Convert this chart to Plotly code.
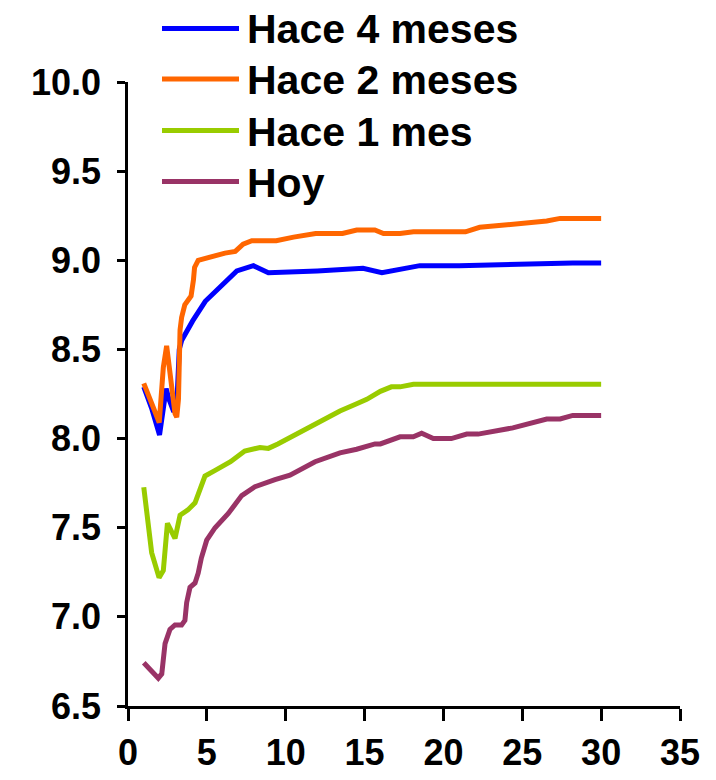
import plotly.graph_objects as go

# ---- data ----
series_names = ["Hace 4 meses", "Hace 2 meses", "Hace 1 mes", "Hoy"]
series_colors = ["#0000FF", "#FF6600", "#99CC00", "#993366"]

blue_x = [1.0, 1.5, 2.0, 2.3, 2.42, 2.6, 2.9, 3.1, 3.25, 3.4, 4.1, 4.9, 5.9, 6.9, 7.95, 8.9, 12.0, 14.9, 16.1, 18.5, 21.0, 25.0, 28.2, 30.0]
blue_y = [8.29, 8.17, 8.02, 8.22, 8.28, 8.22, 8.15, 8.20, 8.50, 8.55, 8.66, 8.77, 8.86, 8.94, 8.97, 8.93, 8.94, 8.955, 8.93, 8.97, 8.97, 8.98, 8.985, 8.985]

orange_x = [1.0, 1.5, 1.98, 2.24, 2.45, 2.66, 2.98, 3.09, 3.2, 3.3, 3.4, 3.6, 4.0, 4.15, 4.22, 4.45, 4.9, 5.5, 6.15, 6.8, 7.3, 7.85, 9.4, 10.5, 11.9, 13.6, 14.5, 15.65, 16.2, 17.25, 18.1, 21.4, 22.3, 26.55, 27.4, 30.0]
orange_y = [8.31, 8.20, 8.09, 8.40, 8.52, 8.37, 8.14, 8.12, 8.22, 8.61, 8.68, 8.75, 8.80, 8.89, 8.96, 9.00, 9.01, 9.03, 9.04, 9.05, 9.09, 9.11, 9.11, 9.13, 9.15, 9.15, 9.17, 9.17, 9.15, 9.15, 9.16, 9.16, 9.185, 9.22, 9.235, 9.235]

green_x = [1.0, 1.5, 1.97, 2.24, 2.5, 2.98, 3.3, 3.8, 4.25, 4.46, 4.88, 5.5, 6.5, 7.4, 8.37, 8.9, 9.5, 11.86, 13.44, 14.5, 15.14, 16.0, 16.7, 17.25, 18.1, 30.0]
green_y = [7.727, 7.36, 7.22, 7.26, 7.525, 7.44, 7.57, 7.60, 7.64, 7.69, 7.79, 7.82, 7.87, 7.93, 7.95, 7.945, 7.97, 8.08, 8.155, 8.195, 8.22, 8.265, 8.29, 8.29, 8.305, 8.305]

purple_x = [1.0, 1.92, 2.14, 2.35, 2.66, 2.98, 3.4, 3.61, 3.72, 3.93, 4.25, 4.45, 4.65, 4.99, 5.52, 6.36, 7.21, 8.05, 9.32, 10.27, 11.86, 13.44, 14.5, 15.66, 16.0, 17.25, 18.09, 18.62, 19.36, 20.5, 21.48, 22.2, 24.4, 26.55, 27.4, 28.2, 30.0]
purple_y = [6.743, 6.656, 6.68, 6.85, 6.93, 6.955, 6.955, 6.98, 7.08, 7.165, 7.19, 7.245, 7.33, 7.43, 7.50, 7.58, 7.68, 7.73, 7.77, 7.795, 7.87, 7.92, 7.94, 7.97, 7.97, 8.01, 8.01, 8.03, 8.00, 8.00, 8.025, 8.025, 8.06, 8.11, 8.11, 8.13, 8.13]

x_ticks = [0, 5, 10, 15, 20, 25, 30, 35]
y_ticks = [6.5, 7.0, 7.5, 8.0, 8.5, 9.0, 9.5, 10.0]

all_x = [blue_x, orange_x, green_x, purple_x]
all_y = [blue_y, orange_y, green_y, purple_y]

# ---- layout geometry (page pixels) ----
W, H = 716, 780
PL, PT, PR, PB = 128, 82, 680, 706          # plot area in page pixels
L, T, R, B = PL, PT, W - PR, H - PB
PW, PH = PR - PL, PB - PT

def px_x(px):
    return (px - PL) / PW

def px_y(py):
    return (PB - py) / PH

FONT = "Liberation Sans, Arial, sans-serif"

fig = go.Figure()
for name, color, xs, ys in zip(series_names, series_colors, all_x, all_y):
    fig.add_trace(go.Scatter(x=xs, y=ys, mode="lines", name=name,
                             line=dict(color=color, width=5),
                             showlegend=False))

# custom legend
leg_rows = [28.5, 79, 130.5, 181.5]
shapes, annotations = [], []
for name, color, py in zip(series_names, series_colors, leg_rows):
    shapes.append(dict(type="line", xref="paper", yref="paper",
                       x0=px_x(162), x1=px_x(239), y0=px_y(py), y1=px_y(py),
                       line=dict(color=color, width=5)))
    annotations.append(dict(xref="paper", yref="paper", x=px_x(245), y=px_y(py + 1),
                            text=name, showarrow=False, xanchor="left", yanchor="middle",
                            font=dict(family=FONT, size=41, color="black", weight="bold")))

fig.update_layout(
    width=W, height=H,
    margin=dict(l=L, r=R, t=T, b=B, autoexpand=False),
    paper_bgcolor="white", plot_bgcolor="white",
    shapes=shapes, annotations=annotations,
    xaxis=dict(range=[0, 35], tickvals=x_ticks, showgrid=False, zeroline=False,
               showline=True, linecolor="black", linewidth=2.5,
               ticks="outside", ticklen=12, tickwidth=2.5, tickcolor="black",
               tickfont=dict(family=FONT, size=36, color="black", weight="bold"),
               ticklabelstandoff=1),
    yaxis=dict(range=[6.5, 10.0], tickvals=y_ticks, tickformat=".1f", showgrid=False,
               zeroline=False, showline=True, linecolor="black", linewidth=2.5,
               ticks="outside", ticklen=8, tickwidth=2.5, tickcolor="black",
               tickfont=dict(family=FONT, size=36, color="black", weight="bold"),
               ticklabelstandoff=9),
)

fig.write_html("out.html", config={"displayModeBar": False},
               post_script="document.body.style.margin='0';")
